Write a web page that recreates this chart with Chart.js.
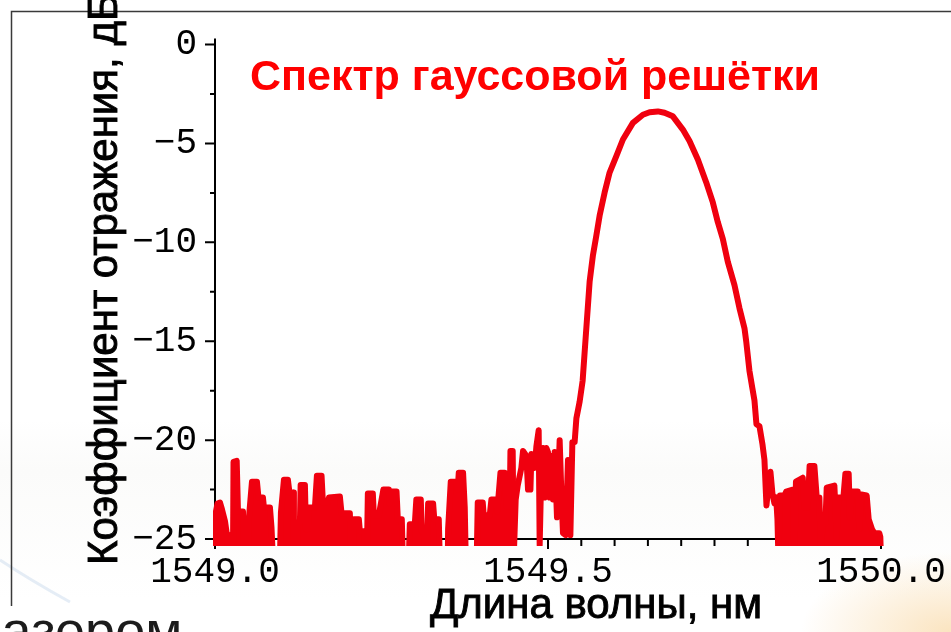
<!DOCTYPE html>
<html lang="ru">
<head>
    <meta charset="UTF-8">
    <title>Спектр гауссовой решётки</title>
    <style>
        html, body { margin: 0; padding: 0; width: 951px; height: 632px; overflow: hidden; }
        body {
            background:
                radial-gradient(ellipse 150px 80px at 100% 100%, rgba(248, 210, 150, 0.6), rgba(255, 255, 255, 0) 100%),
                linear-gradient(to bottom, #ffffff 0px, #ffffff 420px, #fbfbfa 470px, #ffffff 600px);
        }
        #wrap { position: absolute; left: 0; top: 0; width: 951px; height: 632px; }
    </style>
</head>
<body>
<div id="wrap">
    <canvas id="spectrumChart" width="951" height="632"></canvas>
</div>

<script src="https://cdn.jsdelivr.net/npm/chart.js"></script>

<script>
    // Axis ranges (nm, dB)
    const xMin = 1549.0;
    const xMax = 1550.0;
    const yFloor = -25;
    const yTop = 0.3;

    // Tick values
    const xMajorTicks = [1549.0, 1549.5, 1550.0];
    const yMajorTicks = [0, -5, -10, -15, -20, -25];
    const yMinorTicks = [-2.5, -7.5, -12.5, -17.5, -22.5];

    // Noise floor left of the peak (values under -25 are clipped away)
    const leftNoiseNm = [
        1549.0000, 1549.0015, 1549.0038, 1549.0075, 1549.0105, 1549.0150, 1549.0180, 1549.0210, 1549.0240, 1549.0270,
        1549.0278, 1549.0326, 1549.0345, 1549.0420, 1549.0435, 1549.0495, 1549.0510, 1549.0555, 1549.0630, 1549.0653,
        1549.0720, 1549.0735, 1549.0825, 1549.0848, 1549.0870, 1549.0975, 1549.0990, 1549.1035, 1549.1095, 1549.1118,
        1549.1175, 1549.1185, 1549.1230, 1549.1238, 1549.1275, 1549.1286, 1549.1350, 1549.1365, 1549.1395, 1549.1410,
        1549.1500, 1549.1530, 1549.1600, 1549.1620, 1549.1695, 1549.1710, 1549.1875, 1549.1900, 1549.2025, 1549.2040,
        1549.2070, 1549.2085, 1549.2160, 1549.2175, 1549.2235, 1549.2265, 1549.2280, 1549.2295, 1549.2370, 1549.2385,
        1549.2460, 1549.2475, 1549.2528, 1549.2610, 1549.2625, 1549.2648, 1549.2726, 1549.2745, 1549.2805, 1549.2820,
        1549.2910, 1549.2925, 1549.3000, 1549.3023, 1549.3090, 1549.3105, 1549.3135, 1549.3150, 1549.3180, 1549.3200,
        1549.3275, 1549.3293, 1549.3360, 1549.3375, 1549.3495, 1549.3500, 1549.3540, 1549.3626, 1549.3645, 1549.3660,
        1549.3725, 1549.3750, 1549.3765, 1549.3930, 1549.3945, 1549.4020, 1549.4035, 1549.4125, 1549.4150, 1549.4226,
        1549.4238, 1549.4286, 1549.4350, 1549.4376, 1549.4425, 1549.4436, 1549.4470, 1549.4485
    ];
    const leftNoiseDb = [
        -26, -23.6, -23.2, -23.15, -23.5, -24.1, -24.8, -26, -24.8, -26,
        -21.1, -21.05, -23.6, -23.6, -26, -26, -23.9, -22.1, -22.1, -22.9,
        -22.9, -23.4, -23.4, -24.4, -26, -26, -23.65, -22.0, -22.0, -22.65,
        -22.65, -26, -26, -24.15, -24.15, -22.26, -22.26, -24.5, -24.5, -23.4,
        -23.4, -21.8, -21.8, -23.15, -23.15, -22.9, -22.85, -23.7, -23.7, -26,
        -26, -24.0, -24.0, -24.6, -24.6, -26, -26, -22.7, -22.7, -23.8,
        -23.8, -23.5, -22.5, -22.5, -23.2, -22.6, -22.6, -24.0, -24.0, -26,
        -26, -24.25, -24.25, -23.0, -23.0, -24.6, -24.6, -26, -26, -23.2,
        -23.2, -24.0, -24.0, -26, -26, -24.5, -22.1, -22.1, -22.5, -21.65,
        -21.65, -23.4, -26, -26, -23.15, -23.15, -23.8, -23.8, -23.0, -23.0,
        -23.6, -21.65, -21.65, -23.35, -23.35, -20.55, -20.55, -26
    ];

    // Reflection band of the grating
    const peakNm = [
        1549.4485, 1549.4515, 1549.4545, 1549.4600, 1549.4625, 1549.4676, 1549.4700, 1549.4736, 1549.4751, 1549.4800,
        1549.4826, 1549.4860, 1549.4875, 1549.4900, 1549.4925, 1549.4950, 1549.4976, 1549.5000, 1549.5025, 1549.5051,
        1549.5075, 1549.5100, 1549.5135, 1549.5175, 1549.5200, 1549.5225, 1549.5265, 1549.5300, 1549.5336, 1549.5366,
        1549.5400, 1549.5426, 1549.5475, 1549.5520, 1549.5565, 1549.5625, 1549.5675, 1549.5726, 1549.5775, 1549.5850,
        1549.5925, 1549.6026, 1549.6125, 1549.6275, 1549.6425, 1549.6525, 1549.6650, 1549.6750, 1549.6875, 1549.7025,
        1549.7125, 1549.7250, 1549.7376, 1549.7475, 1549.7550, 1549.7625, 1549.7700, 1549.7800, 1549.7875, 1549.7950,
        1549.7976, 1549.8025, 1549.8070, 1549.8100, 1549.8130, 1549.8175, 1549.8220, 1549.8250, 1549.8280, 1549.8310,
        1549.8340, 1549.8370, 1549.8400, 1549.8426
    ];
    const peakDb = [
        -26, -23.0, -22.3, -21.4, -20.55, -20.8, -22.5, -22.5, -20.7, -21.4,
        -20.3, -19.5, -25.3, -21.5, -20.4, -22.9, -20.4, -20.6, -22.9, -20.8,
        -23.0, -20.6, -23.9, -20.0, -22.6, -24.7, -24.8, -21.0, -24.8, -20.1,
        -20.1, -18.9, -18.05, -17.0, -14.84, -11.99, -10.65, -9.65, -8.65, -7.48,
        -6.47, -5.64, -4.80, -3.96, -3.55, -3.42, -3.38, -3.45, -3.63, -4.30,
        -4.88, -5.81, -6.97, -7.98, -8.98, -9.82, -10.99, -12.16, -13.33, -14.34,
        -15.0, -16.5, -17.4, -18.0, -19.2, -19.3, -20.2, -21.0, -23.3, -22.3,
        -21.6, -22.7, -23.2, -22.9
    ];

    // Noise floor right of the peak
    const rightNoiseNm = [
        1549.8426, 1549.8445, 1549.8460, 1549.8483, 1549.8550, 1549.8576, 1549.8675, 1549.8700, 1549.8723, 1549.8825,
        1549.8850, 1549.8900, 1549.8928, 1549.9000, 1549.9035, 1549.9075, 1549.9100, 1549.9120, 1549.9165, 1549.9185,
        1549.9300, 1549.9335, 1549.9360, 1549.9435, 1549.9465, 1549.9515, 1549.9533, 1549.9570, 1549.9650, 1549.9675,
        1549.9705, 1549.9785, 1549.9815, 1549.9865, 1549.9900, 1549.9975, 1549.9990, 1550.0000
    ];
    const rightNoiseDb = [
        -22.9, -24.0, -26, -22.8, -22.8, -22.6, -22.5, -26, -22.1, -21.9,
        -23.4, -23.4, -21.3, -21.3, -22.9, -22.9, -26, -24.2, -24.2, -22.4,
        -22.3, -24.9, -22.9, -22.9, -21.7, -21.7, -23.9, -22.6, -22.6, -24.5,
        -22.75, -22.8, -24.0, -24.5, -24.7, -24.7, -24.9, -26
    ];

    const lineRed = '#f0000f';
    const monoFont = '"Liberation Mono", "Courier New", monospace';
    const sansFont = '"Liberation Sans", Arial, sans-serif';

    function toPoints(xs, ys) {
        return xs.map((x, i) => ({x: x, y: ys[i]}));
    }

    function traceDataset(xs, ys, filled) {
        return {
            data: toPoints(xs, ys),
            borderColor: lineRed,
            backgroundColor: lineRed,
            borderWidth: 6,
            borderJoinStyle: 'round',
            borderCapStyle: 'round',
            pointRadius: 0,
            tension: 0,
            fill: filled ? {value: -26} : false,
            clip: {left: 3, top: 3, right: 3, bottom: 0}
        };
    }

    // Slide frame, leftover slide text
    const backdrop = {
        id: 'backdrop',
        beforeDraw(chart) {
            const ctx = chart.ctx;
            ctx.save();
            ctx.strokeStyle = 'rgba(170, 195, 225, 0.3)';
            ctx.lineWidth = 3;
            ctx.beginPath();
            ctx.moveTo(0, 560);
            ctx.quadraticCurveTo(30, 580, 70, 602);
            ctx.stroke();
            ctx.strokeStyle = '#3a3a3a';
            ctx.lineWidth = 1.5;
            ctx.beginPath();
            ctx.moveTo(11.5, 606);
            ctx.lineTo(11.5, 11.5);
            ctx.lineTo(951, 11.5);
            ctx.stroke();
            ctx.fillStyle = '#1c1c1c';
            ctx.font = '54px ' + sansFont;
            ctx.textBaseline = 'alphabetic';
            ctx.fillText('лазером', -30, 649);
            ctx.restore();
        }
    };

    // Axis lines with major and minor tick marks
    const axesLines = {
        id: 'axesLines',
        beforeDatasetsDraw(chart) {
            const {ctx, scales: {x, y}} = chart;
            const left = x.getPixelForValue(xMin);
            const right = x.getPixelForValue(xMax);
            const bottom = y.getPixelForValue(yFloor);
            ctx.save();
            ctx.strokeStyle = '#000';
            ctx.lineWidth = 2;
            ctx.beginPath();
            ctx.moveTo(left, y.getPixelForValue(yTop));
            ctx.lineTo(left, bottom);
            ctx.lineTo(right, bottom);
            yMajorTicks.forEach(v => {
                const p = y.getPixelForValue(v);
                ctx.moveTo(left - 10, p);
                ctx.lineTo(left, p);
            });
            yMinorTicks.forEach(v => {
                const p = y.getPixelForValue(v);
                ctx.moveTo(left - 5, p);
                ctx.lineTo(left, p);
            });
            for (let i = 0; i <= 20; i++) {
                const p = x.getPixelForValue(xMin + i * 0.05);
                ctx.moveTo(p, bottom);
                ctx.lineTo(p, bottom + (i % 10 === 0 ? 10 : 7));
            }
            ctx.stroke();
            ctx.restore();
        }
    };

    // Chart title and axis titles
    const labels = {
        id: 'labels',
        afterDraw(chart) {
            const ctx = chart.ctx;
            ctx.save();
            ctx.textBaseline = 'alphabetic';
            ctx.fillStyle = '#ff0000';
            ctx.font = 'bold 43px ' + sansFont;
            ctx.textAlign = 'left';
            ctx.fillText('Спектр гауссовой решётки', 250, 90);

            ctx.fillStyle = '#000';
            ctx.strokeStyle = '#000';
            ctx.lineWidth = 0.9;
            ctx.font = '42px ' + sansFont;
            ctx.textAlign = 'center';
            ctx.fillText('Длина волны, нм', 596, 618);
            ctx.strokeText('Длина волны, нм', 596, 618);

            ctx.translate(117, 565);
            ctx.rotate(-Math.PI / 2);
            ctx.font = '42px ' + sansFont;
            ctx.textAlign = 'left';
            ctx.fillText('Коэффициент отражения, дБ', 0, 0);
            ctx.strokeText('Коэффициент отражения, дБ', 0, 0);
            ctx.restore();
        }
    };

    const ctx = document.getElementById('spectrumChart').getContext('2d');
    new Chart(ctx, {
        type: 'line',
        data: {
            datasets: [
                traceDataset(leftNoiseNm, leftNoiseDb, true),
                traceDataset(peakNm, peakDb, false),
                traceDataset(rightNoiseNm, rightNoiseDb, true)
            ]
        },
        options: {
            responsive: false,
            animation: false,
            layout: {padding: {left: 0, top: 36, right: 70, bottom: 0}},
            plugins: {
                legend: {display: false},
                tooltip: {enabled: false}
            },
            scales: {
                x: {
                    type: 'linear',
                    min: xMin,
                    max: xMax,
                    grid: {display: false, drawTicks: false},
                    border: {display: false},
                    ticks: {
                        stepSize: 0.5,
                        padding: 5,
                        color: '#000',
                        font: {family: monoFont, size: 36},
                        maxRotation: 0,
                        autoSkip: false,
                        callback: v => xMajorTicks.includes(v) ? v.toFixed(1) : ''
                    },
                    afterFit: s => { s.height = 86; s.paddingLeft = 0; s.paddingRight = 0; }
                },
                y: {
                    min: -25.35,
                    max: 0.25,
                    grid: {display: false, drawTicks: false},
                    border: {display: false},
                    ticks: {
                        stepSize: 5,
                        includeBounds: false,
                        padding: 18,
                        color: '#000',
                        font: {family: monoFont, size: 36},
                        callback: v => v < 0 ? '\u2212' + Math.abs(v) : String(v)
                    },
                    afterFit: s => { s.width = 215; }
                }
            }
        },
        plugins: [backdrop, axesLines, labels]
    });
</script>

</body>
</html>
